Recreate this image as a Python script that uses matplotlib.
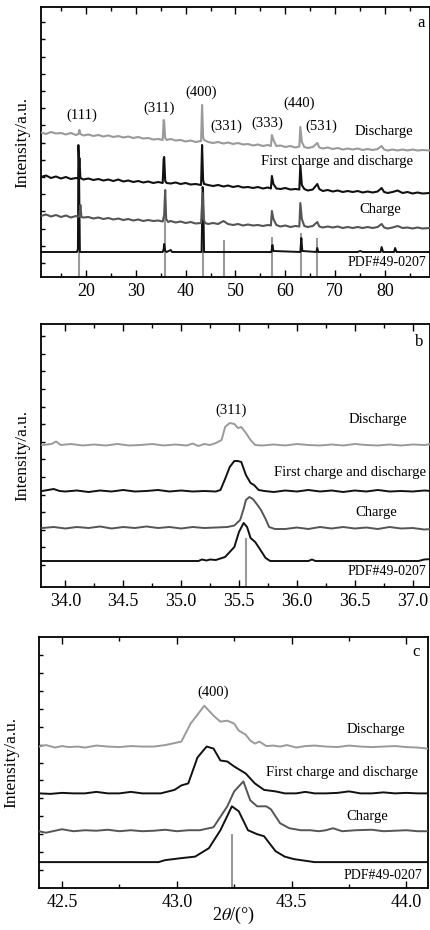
import numpy as np
import matplotlib
matplotlib.use("Agg")
import matplotlib.pyplot as plt
from matplotlib.ticker import MultipleLocator

plt.rcParams["font.family"] = ["Liberation Serif", "DejaVu Serif"]
plt.rcParams["mathtext.fontset"] = "stix"

GRAY_L = "#9a9a9a"   # discharge / PDF card
GRAY_D = "#555555"   # charge
BLACK = "#111111"

# ---------------- panel a: full pattern ----------------
a_dis_x = [11, 12, 13, 14, 15, 16, 17, 18, 18.5, 18.7, 18.9, 19.5, 20.5, 21.5, 22.5, 23.5, 24.5, 25.5,
           26.5, 27.5, 28.5, 29.5, 30.5, 31.5, 32.5, 33.5, 34.5, 35.4, 35.6, 35.7, 35.9, 36.2, 37, 38, 39,
           40, 41, 42, 43.1, 43.3, 43.5, 43.7, 44.5, 45.5, 46.5, 47.6, 48.5, 49.5, 50.5, 51.5, 52.5, 53.5,
           54.5, 55.5, 56.5, 57.1, 57.3, 57.6, 58.2, 59, 60, 61, 62, 62.8, 63.0, 63.3, 63.8, 64.5, 65.5,
           66.4, 66.8, 67.5, 68.5, 69.5, 70.5, 71.5, 72.5, 73.5, 74.5, 75.5, 76.5, 77.5, 78.5, 79.3, 79.8,
           80.5, 81.5, 82.5, 83.5, 84.5, 85.5, 86.5, 87.5, 89]
a_dis_y = [144.5, 143, 145, 143.5, 144, 142.5, 144, 142, 143, 147, 143, 141.5, 142.5, 141, 142, 140.5,
           141.5, 140, 141, 139.5, 140.5, 139, 140, 138.5, 139, 137.5, 138, 137, 157, 155, 139, 137, 138,
           136.5, 137, 135.5, 136.5, 135, 136, 172, 140, 137, 135, 134, 135, 133.5, 134.5, 133, 134, 132.5,
           133, 131.5, 132.5, 131, 132, 131, 142, 137, 131, 131.5, 130, 131, 129.5, 130.5, 150, 135, 130,
           129, 130, 134, 129.5, 128.5, 129.5, 128, 129, 127.5, 128.5, 127.5, 128.5, 127, 128, 127, 128,
           131, 127.5, 126.5, 127.5, 126.5, 127.5, 126.5, 127.5, 126.5, 127, 126.5]

a_fcd_x = [11, 12, 13, 14, 15, 16, 17, 18, 18.5, 18.7, 18.9, 19.5, 20.5, 21.5, 22.5, 23.5, 24.5, 25.5,
           26.5, 27.5, 28.5, 29.5, 30.5, 31.5, 32.5, 33.5, 34.5, 35.4, 35.6, 35.7, 35.9, 36.2, 37, 38, 39,
           40, 41, 42, 43.1, 43.3, 43.5, 43.7, 44.5, 45.5, 46.5, 47.6, 48.5, 49.5, 50.5, 51.5, 52.5, 53.5,
           54.5, 55.5, 56.5, 57.1, 57.3, 57.6, 58.2, 59, 60, 61, 62, 62.8, 63.0, 63.3, 63.8, 64.5, 65.5,
           66.4, 66.8, 67.5, 68.5, 69.5, 70.5, 71.5, 72.5, 73.5, 74.5, 75.5, 76.5, 77.5, 78.5, 79.3, 79.8,
           80.5, 81.5, 82.5, 83.5, 84.5, 85.5, 86.5, 87.5, 89]
a_fcd_y = [100, 101.5, 99, 100.5, 98.5, 100, 98, 99, 98.5, 119, 99, 97.5, 98.5, 97, 98, 96.5, 97.5, 96,
           97.5, 95.5, 96.5, 95, 96, 94.5, 95.5, 94, 95, 94, 118, 120, 96, 94, 93.5, 94.5, 93, 94, 92.5,
           93, 92, 132, 97, 93, 92, 91, 92, 90.5, 91.5, 90, 91, 89.5, 90, 89, 90, 88.5, 89.5, 88.5, 101,
           93, 88.5, 88, 89, 87.5, 88, 87.5, 112, 92, 88, 86.5, 87.5, 93, 88, 86, 87, 85.5, 86.5, 85, 86,
           85, 86, 84.5, 85.5, 84.5, 85.5, 89, 85, 84, 85, 86.5, 84, 85, 83.5, 84.5, 83.5, 84]

a_chg_x = [11, 12, 13, 14, 15, 16, 17, 18, 18.5, 18.7, 18.9, 19.1, 19.5, 20.5, 21.5, 22.5, 23.5, 24.5,
           25.5, 26.5, 27.5, 28.5, 29.5, 30.5, 31.5, 32.5, 33.5, 34.5, 35.4, 35.7, 35.9, 36.1, 36.5, 37, 38,
           39, 40, 41, 42, 43.1, 43.4, 43.6, 43.9, 44.5, 45.5, 46.5, 47.6, 48.5, 49.5, 50.5, 51.5, 52.5,
           53.5, 54.5, 55.5, 56.5, 57.1, 57.3, 57.6, 58.2, 59, 60, 61, 62, 62.8, 63.0, 63.3, 63.8, 64.5,
           65.5, 66.4, 66.8, 67.5, 68.5, 69.5, 70.5, 71.5, 72.5, 73.5, 74.5, 75.5, 76.5, 77.5, 78.5, 79.3,
           79.8, 80.5, 81.5, 82.5, 83.5, 84.5, 85.5, 86.5, 87.5, 89]
a_chg_y = [61, 62.5, 60.5, 62, 60, 61.5, 59.5, 61, 60, 61, 72, 60, 59.5, 60, 58.5, 59.5, 58, 59, 57.5,
           58.5, 57, 58, 56.5, 57.5, 56, 57, 56, 56.5, 55.5, 62, 87, 58, 55, 56, 54.5, 55.5, 54, 55, 53.5,
           54, 84, 58, 54, 53, 54, 53, 56, 53, 52, 53, 51.5, 52.5, 51.5, 52, 51, 52, 51.5, 66, 58, 52, 50.5,
           51.5, 50, 51, 50.5, 74, 58, 51, 50, 51, 55, 50.5, 49.5, 50.5, 49.5, 50.5, 49, 50, 49, 50, 49,
           50, 49, 50, 53, 49.5, 48.5, 49.5, 51, 49, 49.5, 48.5, 49.5, 48.5, 49]

a_pri_x = [11, 18.2, 18.4, 18.5, 18.6, 18.8, 35.4, 35.6, 35.7, 35.9, 36.2, 37.0, 37.3, 43.2, 43.4, 43.5,
           43.7, 57.2, 57.4, 57.6, 63.0, 63.2, 63.4, 66.2, 66.4, 66.6, 74.5, 75.0, 75.5, 79.1, 79.3, 79.6,
           81.8, 82.0, 82.3, 89]
a_pri_y = [25, 25, 28, 132, 118, 25, 25, 28, 33, 26, 25, 27, 25, 25, 90, 87, 25, 25, 32, 26, 25, 39, 26,
           25, 29, 25, 25, 26, 25, 25, 30, 25, 25, 29, 25, 25]

a_pdf_pos = [18.7, 35.9, 43.4, 47.6, 57.3, 63.1, 66.4]
a_pdf_top = [127, 78, 78, 37, 40, 44, 39]

a_hkl = ["(111)", "(311)", "(400)", "(331)", "(333)", "(440)", "(531)"]
a_hkl_x = [19.2, 34.6, 43.2, 48.1, 56.3, 62.7, 67.3]
a_hkl_y = [162, 169, 185, 151, 154, 174, 151]

# ---------------- panel b: (311) ----------------
b_dis_x = [33.8, 33.88, 33.92, 33.96, 34.05, 34.15, 34.25, 34.35, 34.45, 34.55, 34.65, 34.75, 34.85,
           34.95, 35.05, 35.1, 35.15, 35.2, 35.25, 35.30, 35.35, 35.38, 35.42, 35.46, 35.49, 35.52, 35.56,
           35.60, 35.64, 35.7, 35.8, 35.9, 36.0, 36.1, 36.2, 36.3, 36.4, 36.5, 36.6, 36.7, 36.8, 36.9,
           37.0, 37.1, 37.17]
b_dis_y = [142, 143, 145.5, 142, 143, 141.5, 142.5, 141.5, 143, 141.5, 142, 143, 141.5, 142.5, 141.5,
           143.5, 141, 143, 142, 144, 147, 160, 164, 163, 159, 160, 154, 147, 142, 141.5, 142.5, 141.5,
           143, 142, 141.5, 142.5, 141.5, 143, 142, 141.5, 142.5, 141.5, 142.5, 142, 143]

b_fcd_x = [33.8, 33.9, 33.95, 34.0, 34.1, 34.2, 34.3, 34.4, 34.5, 34.6, 34.7, 34.8, 34.9, 35.0, 35.1,
           35.2, 35.3, 35.34, 35.38, 35.42, 35.46, 35.49, 35.52, 35.56, 35.60, 35.63, 35.67, 35.72, 35.8,
           35.9, 36.0, 36.1, 36.2, 36.3, 36.4, 36.5, 36.6, 36.7, 36.8, 36.9, 37.0, 37.1, 37.17]
b_fcd_y = [96, 98, 96, 95.5, 96.5, 95, 96.5, 95.5, 97, 95.5, 96, 97, 95.5, 96.5, 95.5, 96, 95.5, 97, 108,
           120, 126, 126, 125, 112, 104, 102, 97, 96, 95, 96.5, 95.5, 97, 95.5, 96.5, 95, 96.5, 95.5, 97,
           95.5, 96, 95.5, 96.5, 96]

b_chg_x = [33.8, 33.9, 34.0, 34.1, 34.2, 34.3, 34.4, 34.5, 34.6, 34.7, 34.8, 34.9, 35.0, 35.1, 35.2,
           35.3, 35.4, 35.46, 35.51, 35.54, 35.56, 35.59, 35.62, 35.66, 35.69, 35.73, 35.76, 35.81, 35.9,
           36.0, 36.1, 36.2, 36.3, 36.4, 36.5, 36.6, 36.7, 36.8, 36.9, 37.0, 37.1, 37.17]
b_chg_y = [59, 60, 58.5, 60, 59, 60.5, 58.5, 60, 59, 60.5, 59, 60, 58.5, 60, 59, 59.5, 60, 61.5, 67, 78,
           87, 90, 88, 82, 77, 68, 60, 58, 58, 59.5, 58, 60, 58.5, 60, 58.5, 59.5, 58, 60, 58.5, 59, 57.5, 58]

b_pri_x = [33.8, 35.15, 35.18, 35.22, 35.25, 35.3, 35.38, 35.46, 35.5, 35.54, 35.57, 35.6, 35.64, 35.68,
           35.73, 35.77, 36.1, 36.13, 36.16, 37.05, 37.1, 37.17]
b_pri_y = [26, 26, 27.5, 26.5, 27.5, 27, 30, 40, 55, 64, 60, 49, 45, 38, 29, 26, 26, 27.5, 26, 26, 27.5, 28]

b_pdf_pos = [35.56]
b_pdf_top = [49]

# ---------------- panel c: (400) ----------------
c_dis_x = [42.4, 42.43, 42.47, 42.5, 42.53, 42.57, 42.6, 42.65, 42.7, 42.75, 42.8, 42.85, 42.9, 42.95,
           42.98, 43.02, 43.06, 43.12, 43.16, 43.19, 43.22, 43.25, 43.27, 43.30, 43.32, 43.34, 43.36,
           43.39, 43.42, 43.45, 43.48, 43.52, 43.56, 43.6, 43.65, 43.7, 43.75, 43.8, 43.85, 43.9, 43.95,
           44.0, 44.05, 44.09]
c_dis_y = [142, 143.5, 141, 142.5, 141.5, 142, 141, 143, 142, 141.5, 142.5, 142, 142, 143.5, 145, 147,
           165, 183, 173, 167, 168, 165, 158, 154, 148, 145, 147, 142.5, 143, 142, 143.5, 141, 142.5, 143,
           142, 141.5, 143, 142, 141.5, 142, 142.5, 141.5, 141, 140]

c_fcd_x = [42.4, 42.45, 42.5, 42.55, 42.6, 42.65, 42.7, 42.75, 42.8, 42.85, 42.9, 42.93, 42.99, 43.02,
           43.05, 43.09, 43.13, 43.16, 43.19, 43.22, 43.25, 43.30, 43.34, 43.38, 43.43, 43.47, 43.52,
           43.56, 43.6, 43.65, 43.7, 43.75, 43.8, 43.85, 43.9, 43.95, 44.0, 44.05, 44.09]
c_fcd_y = [95, 94.5, 95.5, 95, 95, 96.5, 95, 95, 96.5, 95, 95, 95, 98.5, 103, 105, 131, 142, 140, 128,
           127, 122, 115, 105, 98.5, 97, 95, 95, 96.5, 95, 95, 95.5, 97, 95, 95, 96, 95, 95.5, 95, 95]

c_chg_x = [42.4, 42.43, 42.47, 42.5, 42.55, 42.6, 42.65, 42.7, 42.75, 42.8, 42.85, 42.9, 42.95, 43.0,
           43.05, 43.1, 43.16, 43.22, 43.25, 43.29, 43.32, 43.35, 43.39, 43.41, 43.45, 43.49, 43.54,
           43.58, 43.62, 43.65, 43.68, 43.72, 43.78, 43.85, 43.9, 43.95, 44.0, 44.05, 44.09]
c_chg_y = [57, 55.5, 57.5, 59, 57, 58, 57.5, 58.5, 57, 58, 57, 57.5, 58.5, 57, 58, 58, 61, 82, 97, 107,
           88, 82, 82, 79, 65, 60, 58, 58, 57, 58, 60, 57, 58, 58.5, 57, 57.5, 58, 57, 57]

c_pri_x = [42.4, 42.92, 42.95, 43.02, 43.08, 43.14, 43.19, 43.24, 43.27, 43.31, 43.35, 43.38, 43.43,
           43.47, 43.51, 43.6, 44.09]
c_pri_y = [26, 26, 28, 30, 31.5, 40, 58, 82, 77, 58, 54, 52, 37, 31.5, 29, 26, 26]

c_pdf_pos = [43.24]
c_pdf_top = [54]

W, H = 431, 930
fig = plt.figure(figsize=(W / 100, H / 100), dpi=100)


def box(l, t, r, b):
    return [l / W, 1 - b / H, (r - l) / W, (b - t) / H]


def style(ax, xlim, ylim, major, minor, yt0, ytstep, ylpad=8):
    ax.set_xlim(*xlim)
    ax.set_ylim(*ylim)
    ax.xaxis.set_major_locator(MultipleLocator(major))
    ax.xaxis.set_minor_locator(MultipleLocator(minor))
    ax.set_yticks(np.arange(yt0, ylim[1], ytstep))
    ax.tick_params(axis="x", which="both", direction="in", top=True, labelsize=13, pad=4)
    ax.tick_params(axis="x", which="major", length=5, width=1)
    ax.tick_params(axis="x", which="minor", length=3, width=1)
    ax.tick_params(axis="y", direction="in", length=3, width=1, labelleft=False)
    for s in ax.spines.values():
        s.set_linewidth(1.3)
    ax.set_ylabel("Intensity/a.u.", fontsize=12.5, labelpad=ylpad)


def draw(ax, dis, fcd, chg, pri, pdf, lw):
    ax.vlines(pdf[0], 0, pdf[1], color=GRAY_L, lw=1.5, zorder=1)
    ax.plot(pri[0], pri[1], color=BLACK, lw=1.4, zorder=2)
    ax.plot(chg[0], chg[1], color=GRAY_D, lw=lw, zorder=3)
    ax.plot(fcd[0], fcd[1], color=BLACK, lw=lw, zorder=3)
    ax.plot(dis[0], dis[1], color=GRAY_L, lw=lw, zorder=3)


txt = dict(fontsize=10.5, ha="center", va="center")

# panel a
ax = fig.add_axes(box(41, 7, 430, 277))
draw(ax, (a_dis_x, a_dis_y), (a_fcd_x, a_fcd_y), (a_chg_x, a_chg_y), (a_pri_x, a_pri_y),
     (a_pdf_pos, a_pdf_top), 1.5)
style(ax, (11, 89), (0, 270), 10, 5, 14, 17.2)
for s, x, y in zip(a_hkl, a_hkl_x, a_hkl_y):
    ax.text(x, y, s, fontsize=10.5, ha="center", va="center")
ax.text(79.7, 146, "Discharge", **txt)
ax.text(70.3, 116, "First charge and discharge", **txt)
ax.text(79.0, 67, "Charge", **txt)
ax.text(88.3, 15, "PDF#49-0207", fontsize=10, ha="right", va="center")
ax.text(87.2, 254, "a", fontsize=12, ha="center", va="center")

# panel b
ax = fig.add_axes(box(41, 324, 430, 587))
draw(ax, (b_dis_x, b_dis_y), (b_fcd_x, b_fcd_y), (b_chg_x, b_chg_y), (b_pri_x, b_pri_y),
     (b_pdf_pos, b_pdf_top), 1.4)
style(ax, (33.79, 37.15), (0, 263), 0.5, 0.25, 22, 17.6)
ax.text(35.43, 177, "(311)", fontsize=10.5, ha="center", va="center")
ax.text(36.7, 168, "Discharge", **txt)
ax.text(36.46, 115, "First charge and discharge", **txt)
ax.text(36.69, 75, "Charge", **txt)
ax.text(37.12, 16, "PDF#49-0207", fontsize=10, ha="right", va="center")
ax.text(37.06, 245, "b", fontsize=12, ha="center", va="center")

# panel c
ax = fig.add_axes(box(39, 637, 428, 888))
draw(ax, (c_dis_x, c_dis_y), (c_fcd_x, c_fcd_y), (c_chg_x, c_chg_y), (c_pri_x, c_pri_y),
     (c_pdf_pos, c_pdf_top), 1.4)
style(ax, (42.4, 44.094), (0, 252), 0.5, 0.25, 18, 18, ylpad=14)
ax.text(43.157, 197, "(400)", fontsize=10.5, ha="center", va="center")
ax.text(43.866, 159, "Discharge", **txt)
ax.text(43.72, 116, "First charge and discharge", **txt)
ax.text(43.83, 72, "Charge", **txt)
ax.text(44.07, 13, "PDF#49-0207", fontsize=10, ha="right", va="center")
ax.text(44.04, 237, "c", fontsize=12, ha="center", va="center")
ax.set_xlabel("2$\\theta$/(°)", fontsize=13, labelpad=-4)

fig.savefig("out.png", dpi=100)
